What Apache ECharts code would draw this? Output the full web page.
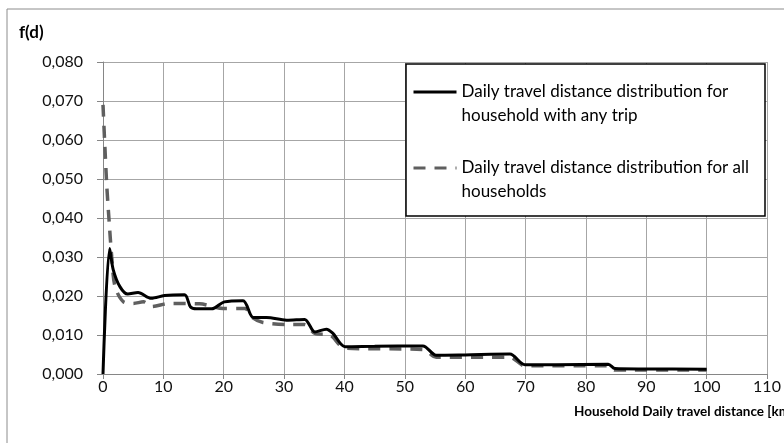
<!DOCTYPE html>
<html>
<head>
<meta charset="utf-8">
<script src="https://cdn.jsdelivr.net/npm/echarts@6/dist/echarts.min.js"></script>
<style>
  html, body { margin: 0; padding: 0; background: #fff; }
  #chart { width: 784px; height: 443px; }
</style>
</head>
<body>
<div id="chart"></div>
<script>
// household with any trip (solid)
var tripDist = [0, 1.1, 1.7, 2.8, 4.1, 5.8, 8.0, 10.2, 13.5, 14.5, 15.5, 18.0, 20.1, 23.2, 24.9, 27.1, 30.4, 33.4, 35.1, 37.0, 38.1, 40.1, 45, 53.0, 55.2, 60, 67.4, 69.9, 75, 83.7, 84.8, 90, 100];
var tripVals = [0, 0.0322, 0.0267, 0.0224, 0.0205, 0.0209, 0.0194, 0.0201, 0.0203, 0.0172, 0.0167, 0.0167, 0.0185, 0.0188, 0.0145, 0.0145, 0.0138, 0.0140, 0.0108, 0.0115, 0.0104, 0.0070, 0.0071, 0.0072, 0.0048, 0.0049, 0.0051, 0.0024, 0.0024, 0.0025, 0.0014, 0.0013, 0.0012];

// all households (dashed)
var allDist = [0, 0.6, 1.0, 1.45, 2.0, 3.4, 5.0, 6.7, 8.0, 11.1, 16, 19.9, 23.5, 24.9, 26.5, 31, 33.4, 35.1, 37.6, 40.1, 53, 55.2, 67.4, 69.9, 83.7, 84.8, 100];
var allVals = [0.069, 0.049, 0.0395, 0.030, 0.0224, 0.0185, 0.0181, 0.0185, 0.0173, 0.0181, 0.0180, 0.0168, 0.0168, 0.0143, 0.0132, 0.0127, 0.0127, 0.0104, 0.0100, 0.0066, 0.0063, 0.0043, 0.0043, 0.0021, 0.0021, 0.0010, 0.0010];

var tripName = "Daily travel distance distribution for household with any trip";
var allName = "Daily travel distance distribution for all households";
// blank first line keeps the legend line level with the first text line
var legendText = {};
legendText[tripName] = "\nDaily travel distance distribution for\nhousehold with any trip";
legendText[allName] = "\nDaily travel distance distribution for all\nhouseholds";

function pairs(xs, ys) {
  return xs.map(function (x, i) { return [x, ys[i]]; });
}

var font = "Lato, 'Open Sans', sans-serif";
var chart = echarts.init(document.getElementById("chart"));
chart.setOption({
  animation: false,
  textStyle: { fontFamily: font },
  grid: { left: 103, right: 17, top: 62, bottom: 69 },
  graphic: [
    {
      type: "rect",
      z: 0,
      shape: { x: 7, y: 9, width: 820, height: 500 },
      style: { fill: "none", stroke: "#8c8c8c", lineWidth: 1 }
    },
    {
      type: "rect",
      z: 50,
      shape: { x: 406, y: 64, width: 359, height: 152 },
      style: { fill: "#fff", stroke: "#000", lineWidth: 1.5 }
    },
    {
      type: "text",
      left: 19,
      top: 24,
      style: { text: "f(d)", fontFamily: font, fontSize: 17, fontWeight: "bold", fill: "#000" }
    },
    {
      type: "text",
      left: 574,
      top: 405,
      style: { text: "Household Daily travel distance [km]", fontFamily: font, fontSize: 13.5, fontWeight: "bold", fill: "#000" }
    }
  ],
  legend: {
    z: 60,
    orient: "vertical",
    left: 412,
    top: 56,
    padding: 0,
    itemWidth: 43,
    itemHeight: 14,
    itemGap: 4,
    data: [tripName, allName],
    formatter: function (n) { return legendText[n]; },
    itemStyle: { opacity: 0 },
    lineStyle: { width: 3 },
    textStyle: { fontFamily: font, fontSize: 17, color: "#000", lineHeight: 24 }
  },
  xAxis: {
    type: "value",
    min: 0,
    max: 110,
    interval: 10,
    axisLine: { show: true, lineStyle: { color: "#868686" } },
    axisTick: { show: true, inside: false, length: 5, lineStyle: { color: "#868686" } },
    axisLabel: { color: "#111", fontSize: 16, margin: 5, fontFamily: font },
    splitLine: { show: true, lineStyle: { color: "#a6a6a6", width: 1 } }
  },
  yAxis: {
    type: "value",
    min: 0,
    max: 0.08,
    interval: 0.01,
    axisLine: { show: true, lineStyle: { color: "#868686" } },
    axisTick: { show: true, inside: false, length: 6, lineStyle: { color: "#868686" } },
    axisLabel: {
      color: "#111",
      fontSize: 16,
      margin: 20,
      fontFamily: font,
      formatter: function (v) { return v.toFixed(3).replace(".", ","); }
    },
    splitLine: { show: true, lineStyle: { color: "#a6a6a6", width: 1 } }
  },
  series: [
    {
      name: tripName,
      type: "line",
      z: 3,
      smooth: 0.3,
      symbol: "none",
      lineStyle: { color: "#000", width: 3 },
      itemStyle: { color: "#000" },
      data: pairs(tripDist, tripVals)
    },
    {
      name: allName,
      type: "line",
      z: 2,
      smooth: 0.3,
      symbol: "none",
      lineStyle: { color: "#5f5f5f", width: 3.5, type: [12, 9] },
      itemStyle: { color: "#5f5f5f" },
      data: pairs(allDist, allVals)
    }
  ]
});
</script>
</body>
</html>
